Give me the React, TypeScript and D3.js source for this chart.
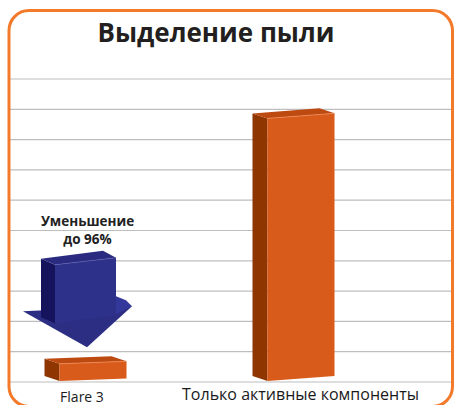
import React from "react";
import * as d3 from "d3";

const categories = ["Flare 3", "Только активные компоненты"];
const values = [0.6, 8.7];
const yTicks = [0, 1, 2, 3, 4, 5, 6, 7, 8, 9, 10];
const title = "Выделение пыли";
const annotation = ["Уменьшение", "до 96%"];

const W = 454;
const H = 405;

export default function App() {
  const y = d3.scaleLinear().domain([0, 10]).range([382, 79]);
  const x = d3.scalePoint<string>().domain(categories).range([93, 301]);
  const xLabel = d3.scalePoint<string>().domain(categories).range([82, 300.5]);
  const line = d3.line<[number, number]>();
  const poly = (pts: [number, number][]) => line(pts) + "Z";

  const fw = 67; // front width
  const slope = 0.075;
  const dx = -15;
  const dy = -5;

  const bars = categories.map((c, i) => {
    const cx = x(c)!;
    const xL = cx - fw / 2;
    const xR = cx + fw / 2;
    const yb = y(0) - 1;
    const yt = y(values[i]);
    const rise = slope * fw * (i === 0 ? 0.5 : 1);
    const front: [number, number][] = [
      [xL, yt],
      [xR, yt - rise],
      [xR, yb - rise],
      [xL, yb],
    ];
    const side: [number, number][] = [
      [xL + dx, yt + dy],
      [xL, yt],
      [xL, yb],
      [xL + dx, yb + dy],
    ];
    const top: [number, number][] = [
      [xL + dx, yt + dy],
      [xR + dx, yt - rise + dy],
      [xR, yt - rise],
      [xL, yt],
    ];
    return { c, front, side, top, edge: [[xL, yt], [xR, yt - rise]] as [number, number][] };
  });

  // arrow annotation anchored to first category
  const ax = x(categories[0])!;
  const aTop = y(4.1);
  const aHeadBase = y(2.3);
  const aTip = y(1.15);
  const sL = ax - 38;
  const sR = ax + 23;
  const arrowHead: [number, number][] = [
    [ax - 70, aHeadBase - 1],
    [ax + 39, aHeadBase - 6],
    [ax - 6, aTip],
  ];
  const arrowWing: [number, number][] = [
    [sR, aHeadBase - 16],
    [ax + 33, aHeadBase - 12],
    [ax + 39, aHeadBase - 6],
    [sR, aHeadBase + 2],
  ];
  const shaftSide: [number, number][] = [
    [sL - 14, aTop + 1],
    [sL, aTop + 7],
    [sL, aHeadBase + 11],
    [sL - 14, aHeadBase + 5],
  ];
  const shaftFront: [number, number][] = [
    [sL, aTop + 7],
    [sR, aTop],
    [sR, aHeadBase + 3],
    [sL, aHeadBase + 11],
  ];
  const shaftTop: [number, number][] = [
    [sL - 14, aTop + 1],
    [sR - 13, aTop - 7],
    [sR, aTop],
    [sL, aTop + 7],
  ];

  return (
    <svg width={W} height={H} style={{ position: "absolute", left: 0, top: 0 }}>
      <rect width={W} height={H} fill="#ffffff" />
      {yTicks.map((t) => (
        <line key={t} x1={9} x2={453} y1={y(t)} y2={y(t)} stroke="#BEBEBE" strokeWidth={1.2} />
      ))}
      {bars.map((b) => (
        <g key={b.c}>
          <path d={poly(b.side)} fill="#8E3500" />
          <path d={poly(b.front)} fill="#D95B1B" />
          <path d={poly(b.top)} fill="#BD4A10" />
          <path d={line(b.edge)!} stroke="#F08A55" strokeWidth={0.8} fill="none" />
        </g>
      ))}
      <path d={poly(arrowHead)} fill="#2C2E84" />
      <path d={poly(arrowWing)} fill="#34389A" />
      <path d={poly(shaftSide)} fill="#15135C" />
      <path d={poly(shaftFront)} fill="#2E3189" />
      <path d={poly(shaftTop)} fill="#2A2B80" />
      <line x1={sL} y1={aTop + 7} x2={sR} y2={aTop} stroke="#5A5DB0" strokeWidth={0.7} />
      <text
        x={ax - 5.5}
        y={226}
        textAnchor="middle"
        fontFamily="Open Sans"
        fontWeight="bold"
        fontSize={13.5}
        fill="#222"
      >
        {annotation[0]}
      </text>
      <text
        x={ax - 5.5}
        y={244}
        textAnchor="middle"
        fontFamily="Open Sans"
        fontWeight="bold"
        fontSize={13.5}
        fill="#222"
      >
        {annotation[1]}
      </text>
      {categories.map((c, i) => (
        <text
          key={c}
          x={xLabel(c)}
          y={i === 0 ? 402 : 400}
          textAnchor="middle"
          fontFamily="Open Sans"
          fontSize={i === 0 ? 14 : 16}
          fill="#1a1a1a"
        >
          {c}
        </text>
      ))}
      <text
        x={216}
        y={42}
        textAnchor="middle"
        fontFamily="Open Sans"
        fontWeight="bold"
        fontSize={26}
        fill="#231F20"
      >
        {title}
      </text>
      <rect
        x={9}
        y={10.5}
        width={443.5}
        height={396}
        rx={20}
        ry={20}
        fill="none"
        stroke="#F37A2B"
        strokeWidth={3}
      />
    </svg>
  );
}
